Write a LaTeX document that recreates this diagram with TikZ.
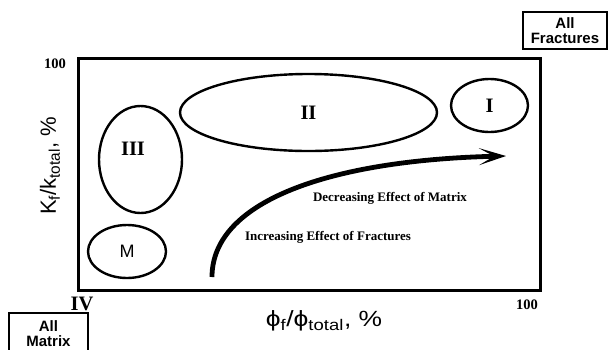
\documentclass[tikz,border=0pt]{standalone}
\usepackage{fontspec}
\setmainfont{Liberation Serif}
\setsansfont{Liberation Sans}
\usetikzlibrary{arrows.meta,shapes.geometric}

\begin{document}
\begin{tikzpicture}[x=1pt,y=-1pt,
  zone/.style={draw,ellipse,line width=2.4pt,inner sep=0pt},
  roman/.style={font=\fontsize{20.5}{20.5}\selectfont\bfseries},
  tick/.style={font=\fontsize{14.5}{14.5}\selectfont\bfseries},
  note/.style={font=\fontsize{13}{13}\selectfont\bfseries},
  axis/.style={font=\sffamily\fontsize{22}{22}\selectfont},
  endbox/.style={draw,line width=1.2pt,align=center,inner sep=0pt,
    font=\sffamily\bfseries\fontsize{15}{15}\selectfont},
  trend/.style={line width=4.8pt,-{Stealth[length=27pt,width=17pt,inset=15pt]}}]

\useasboundingbox (0,0) rectangle (608,349);

% plot frame
\node[draw,line width=3pt,minimum width=462pt,minimum height=231.5pt,inner sep=0pt] (chart) at (309,174.25) {};

% reservoir classes
\node[zone,roman,minimum width=257pt,minimum height=77pt] (II) at (308.5,112.5) {II};
\node[zone,roman,minimum width=77pt,minimum height=53pt] (I) at (489.5,105.5) {I};
\node[zone,minimum width=83pt,minimum height=107pt] (III) at (140.5,159.5) {};
\node[roman] (III-label) at (133,149) {III};
\node[zone,font=\sffamily\fontsize{18}{18}\selectfont,minimum width=78pt,minimum height=53pt] (M) at (127,251.5) {M};

% trend arrow
\coordinate (start) at (212,277);
\coordinate (tip) at (506,156);
\draw[trend] (start) .. controls +(0,-76) and +(-176,4) .. (tip);
\node[note] (dec) at (390,198) {Decreasing Effect of Matrix};
\node[note] (inc) at (328,237) {Increasing Effect of Fractures};

% axes
\node[tick] (ymax) at (55,64) {100};
\node[tick] (xmax) at (527,305) {100};
\node[roman] (IV) at (82,304) {IV};
\node[axis,xscale=1.2] (xlab) at (324,321) {ϕ\textsubscript{f}/ϕ\textsubscript{total}, \%};
\node[axis,rotate=90] (ylab) at (50,166) {K\textsubscript{f}/k\textsubscript{total}, \%};

% end members
\node[endbox,minimum width=84pt,minimum height=37pt] (frac) at (565,30.5) {All\\Fractures};
\node[endbox,minimum width=79pt,minimum height=41pt] (mat) at (48.5,333.5) {All\\Matrix};
\end{tikzpicture}
\end{document}
